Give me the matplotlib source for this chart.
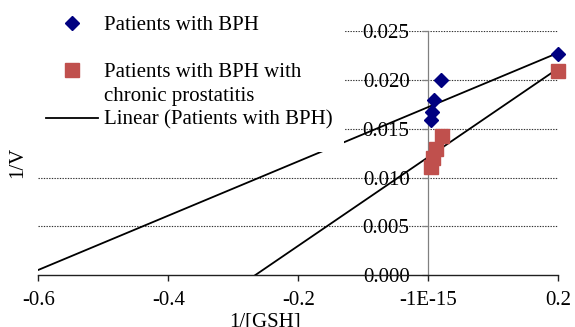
import matplotlib
matplotlib.use('Agg')
import matplotlib.pyplot as plt
from matplotlib.lines import Line2D
from matplotlib.patches import Rectangle

# data
bph_x = [0.0035, 0.0051, 0.0088, 0.0191, 0.2]
bph_y = [0.0159, 0.0167, 0.0180, 0.0200, 0.0227]
cp_x = [0.0039, 0.0065, 0.0126, 0.0211, 0.2]
cp_y = [0.0111, 0.0120, 0.0129, 0.0143, 0.0209]
trend_x = [-0.6, 0.2]
trend_bph = [0.00052, 0.0228]
trend_cp = [-0.0152, 0.0212]

x_ticks = [-0.6, -0.4, -0.2, 0.0, 0.2]
x_labels = ['-0.6', '-0.4', '-0.2', '-1E-15', '0.2']
y_ticks = [0.0, 0.005, 0.010, 0.015, 0.020, 0.025]
y_labels = ['0.000', '0.005', '0.010', '0.015', '0.020', '0.025']

plt.rcParams['font.family'] = ['Liberation Serif', 'DejaVu Serif']
fs = 15
W, H = 575, 327

fig = plt.figure(figsize=(5.75, 3.27), dpi=100)
ax = fig.add_axes([38.3 / W, 52 / H, 520 / W, 243.7 / H])

ax.set_xlim(-0.6, 0.2)
ax.set_ylim(0, 0.025)

# gridlines
for yv in y_ticks[1:]:
    ax.axhline(yv, color='#303030', lw=0.8, ls=(0, (1.2, 1.2)), zorder=1)

# trendlines
ax.plot(trend_x, trend_bph, color='black', lw=1.3, zorder=3)
ax.plot(trend_x, trend_cp, color='black', lw=1.3, zorder=3)

# points
ax.plot(bph_x, bph_y, ls='none', marker='D', ms=7.3, color='#000080',
        mec='#000080', clip_on=False, zorder=4)
ax.plot(cp_x, cp_y, ls='none', marker='s', ms=9.8, color='#C0504D',
        mec='#C0504D', clip_on=False, zorder=4)

# axes
for s in ['top', 'right']:
    ax.spines[s].set_visible(False)
ax.spines['left'].set_position(('data', 0))
ax.spines['left'].set_color('#808080')
ax.spines['left'].set_linewidth(0.9)
ax.spines['bottom'].set_color('#202020')
ax.spines['bottom'].set_linewidth(1.0)

ax.set_xticks(x_ticks)
ax.set_xticklabels(x_labels)
ax.set_yticks(y_ticks)
ax.set_yticklabels(y_labels)
ax.tick_params(axis='x', direction='out', length=4, width=1.0,
               color='#202020', labelsize=fs, pad=7.5)
ax.tick_params(axis='y', direction='out', length=4, width=0.9,
               color='#808080', labelsize=fs, pad=9.5)

fig.text(18 / W, 1 - 162 / H, '1/V', rotation=90, fontsize=fs,
         ha='center', va='center')
fig.text(265 / W, 1 - 312 / H, '1/[GSH]', fontsize=fs,
         ha='center', va='top')

# white legend area, it hides part of the plot like in Excel
fig.patches.append(Rectangle((36 / W, 1 - 152 / H), (344 - 36) / W, 152 / H,
                             transform=fig.transFigure, facecolor='white',
                             edgecolor='none', zorder=1))

# legend (Excel style, marker next to first line of wrapped label)
blank = Line2D([], [], ls='none')
handles = [
    Line2D([], [], ls='none', marker='D', ms=7.3, color='#000080'),
    blank,
    Line2D([], [], ls='none', marker='s', ms=9.8, color='#C0504D'),
    blank,
    Line2D([], [], color='black', lw=1.3),
]
labels = ['Patients with BPH', ' ', 'Patients with BPH with',
          'chronic prostatitis', 'Linear (Patients with BPH)']
leg = fig.legend(handles, labels, loc='upper left',
                 bbox_to_anchor=(40 / W, 1 - 9 / H),
                 bbox_transform=fig.transFigure, fontsize=fs,
                 frameon=False, handlelength=2.5, handletextpad=0.25,
                 labelspacing=0.2, borderpad=0.3, borderaxespad=0)
leg.set_zorder(5)

fig.savefig('out.png', dpi=100)
